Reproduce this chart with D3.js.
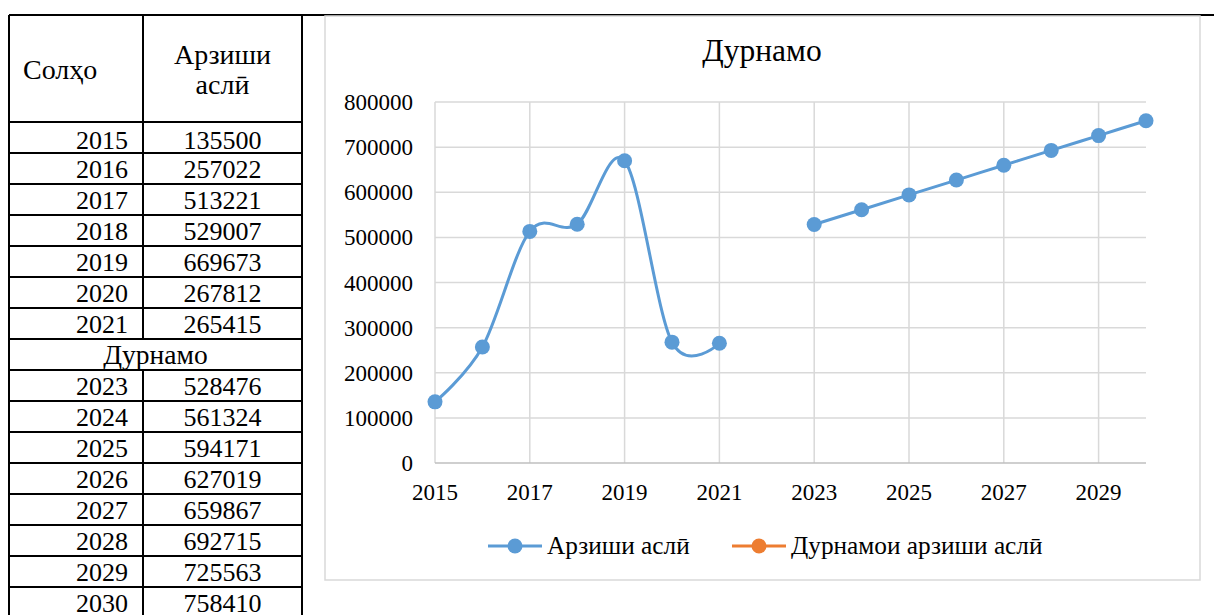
<!DOCTYPE html>
<html>
<head>
<meta charset="utf-8">
<script src="https://cdn.jsdelivr.net/npm/d3@7"></script>
<style>
  html, body { margin: 0; padding: 0; background: #fff; }
  svg { display: block; }
  text { font-family: "Liberation Serif", "Times New Roman", serif; fill: #000; }
</style>
</head>
<body>
<svg id="c" width="1214" height="615"></svg>
<script>
// ---- data ----
const categories = [2015, 2016, 2017, 2018, 2019, 2020, 2021, 2022, 2023, 2024, 2025, 2026, 2027, 2028, 2029, 2030];
const actualValues = [135500, 257022, 513221, 529007, 669673, 267812, 265415, null, 528476, 561324, 594171, 627019, 659867, 692715, 725563, 758410];
const forecastValues = [null, null, null, null, null, null, null, null, null, null, null, null, null, null, null, null];
const yTicks = [0, 100000, 200000, 300000, 400000, 500000, 600000, 700000, 800000];
const xTickLabels = [2015, 2017, 2019, 2021, 2023, 2025, 2027, 2029];
const tableYearsA = [2015, 2016, 2017, 2018, 2019, 2020, 2021];
const tableValsA = [135500, 257022, 513221, 529007, 669673, 267812, 265415];
const tableYearsB = [2023, 2024, 2025, 2026, 2027, 2028, 2029, 2030];
const tableValsB = [528476, 561324, 594171, 627019, 659867, 692715, 725563, 758410];
const seriesNames = ["Арзиши аслӣ", "Дурнамои арзиши аслӣ"];
const seriesColors = ["#5B9BD5", "#ED7D31"];
const chartTitle = "Дурнамо";
const headerCol1 = "Солҳо";
const headerCol2 = ["Арзиши", "аслӣ"];
const sectionLabel = "Дурнамо";

const svg = d3.select("#c");

// ---- table ----
const tL = 9, tM = 143, tR = 302, tTop = 15, hdrBottom = 122, rowH = 31;
const tbl = svg.append("g");
const rows = [];
tableYearsA.forEach((y, i) => rows.push({ year: y, val: tableValsA[i] }));
rows.push({ section: sectionLabel });
tableYearsB.forEach((y, i) => rows.push({ year: y, val: tableValsB[i] }));

// top line spanning whole page
svg.append("line").attr("x1", tL).attr("x2", 1214).attr("y1", tTop).attr("y2", tTop)
  .attr("stroke", "#000").attr("stroke-width", 2);

const tBottom = hdrBottom + rows.length * rowH;
[tL, tR].forEach(x => tbl.append("line").attr("x1", x).attr("x2", x).attr("y1", tTop).attr("y2", tBottom)
  .attr("stroke", "#000").attr("stroke-width", 2));
tbl.append("line").attr("x1", tL).attr("x2", tR).attr("y1", hdrBottom).attr("y2", hdrBottom)
  .attr("stroke", "#000").attr("stroke-width", 2);
tbl.append("line").attr("x1", tM).attr("x2", tM).attr("y1", tTop).attr("y2", tBottom)
  .attr("stroke", "#000").attr("stroke-width", 2);

rows.forEach((r, i) => {
  const y0 = hdrBottom + i * rowH;
  tbl.append("line").attr("x1", tL).attr("x2", tR).attr("y1", y0 + rowH).attr("y2", y0 + rowH)
    .attr("stroke", "#000").attr("stroke-width", 2);
  if (r.section) {
    tbl.append("rect").attr("x", tM - 2).attr("y", y0 + 1).attr("width", 4).attr("height", rowH - 2).attr("fill", "#fff");
    tbl.append("text").attr("x", (tL + tR) / 2).attr("y", y0 + 25).attr("text-anchor", "middle")
      .attr("font-size", 27.5).text(r.section);
  } else {
    const by = y0 + (i === 0 ? 27 : 25);
    tbl.append("text").attr("x", 128).attr("y", by).attr("text-anchor", "end")
      .attr("font-size", 26).text(r.year);
    tbl.append("text").attr("x", (tM + tR) / 2).attr("y", by).attr("text-anchor", "middle")
      .attr("font-size", 26).text(r.val);
  }
});
tbl.append("text").attr("x", 23).attr("y", 79).attr("font-size", 28).text(headerCol1);
tbl.append("text").attr("x", (tM + tR) / 2).attr("y", 64).attr("text-anchor", "middle").attr("font-size", 28).text(headerCol2[0]);
tbl.append("text").attr("x", (tM + tR) / 2).attr("y", 94).attr("text-anchor", "middle").attr("font-size", 28).text(headerCol2[1]);

// ---- chart ----
svg.append("rect").attr("x", 325).attr("y", 16).attr("width", 875).attr("height", 564)
  .attr("fill", "#fff").attr("stroke", "#D9D9D9").attr("stroke-width", 1.5);

const x = d3.scalePoint().domain(categories).range([435, 1146]);
const y = d3.scaleLinear().domain([0, 800000]).range([463, 102]);

const g = svg.append("g");
g.selectAll(".hg").data(yTicks.filter(d => d > 0)).enter().append("line")
  .attr("x1", 435).attr("x2", 1146).attr("y1", d => y(d)).attr("y2", d => y(d))
  .attr("stroke", "#D9D9D9").attr("stroke-width", 1.5);
g.selectAll(".vg").data(xTickLabels).enter().append("line")
  .attr("x1", d => x(d)).attr("x2", d => x(d)).attr("y1", y(800000)).attr("y2", y(0))
  .attr("stroke", "#D9D9D9").attr("stroke-width", 1.5);
g.append("line").attr("x1", 435).attr("x2", 1146).attr("y1", y(0)).attr("y2", y(0))
  .attr("stroke", "#BFBFBF").attr("stroke-width", 1.5);

g.selectAll(".yl").data(yTicks).enter().append("text")
  .attr("x", 413).attr("y", d => y(d) + 8).attr("text-anchor", "end").attr("font-size", 23)
  .text(d => d);
g.selectAll(".xl").data(xTickLabels).enter().append("text")
  .attr("x", d => x(d)).attr("y", 500).attr("text-anchor", "middle").attr("font-size", 23)
  .text(d => d);

svg.append("text").attr("x", 762).attr("y", 61).attr("text-anchor", "middle").attr("font-size", 31.5).text(chartTitle);

const pts = categories.map((c, i) => ({ c, v: actualValues[i] }));
const line = d3.line().defined(d => d.v != null).x(d => x(d.c)).y(d => y(d.v))
  .curve(d3.curveCardinal.tension(0));
g.append("path").attr("d", line(pts)).attr("fill", "none").attr("stroke", seriesColors[0])
  .attr("stroke-width", 3).attr("stroke-linejoin", "round").attr("stroke-linecap", "round");
g.selectAll(".pt").data(pts.filter(d => d.v != null)).enter().append("circle")
  .attr("cx", d => x(d.c)).attr("cy", d => y(d.v)).attr("r", 7.5).attr("fill", seriesColors[0]);

const fpts = categories.map((c, i) => ({ c, v: forecastValues[i] }));
g.append("path").attr("d", line(fpts) || "").attr("fill", "none").attr("stroke", seriesColors[1]).attr("stroke-width", 3);
g.selectAll(".fpt").data(fpts.filter(d => d.v != null)).enter().append("circle")
  .attr("cx", d => x(d.c)).attr("cy", d => y(d.v)).attr("r", 7.5).attr("fill", seriesColors[1]);

const legend = [
  { name: seriesNames[0], color: seriesColors[0], x0: 488 },
  { name: seriesNames[1], color: seriesColors[1], x0: 732 }
];
const lg = svg.append("g");
legend.forEach(l => {
  lg.append("line").attr("x1", l.x0).attr("x2", l.x0 + 54).attr("y1", 546).attr("y2", 546)
    .attr("stroke", l.color).attr("stroke-width", 3);
  lg.append("circle").attr("cx", l.x0 + 27).attr("cy", 546).attr("r", 7.5).attr("fill", l.color);
  lg.append("text").attr("x", l.x0 + 59).attr("y", 554).attr("font-size", 25.3).text(l.name);
});
</script>
</body>
</html>
